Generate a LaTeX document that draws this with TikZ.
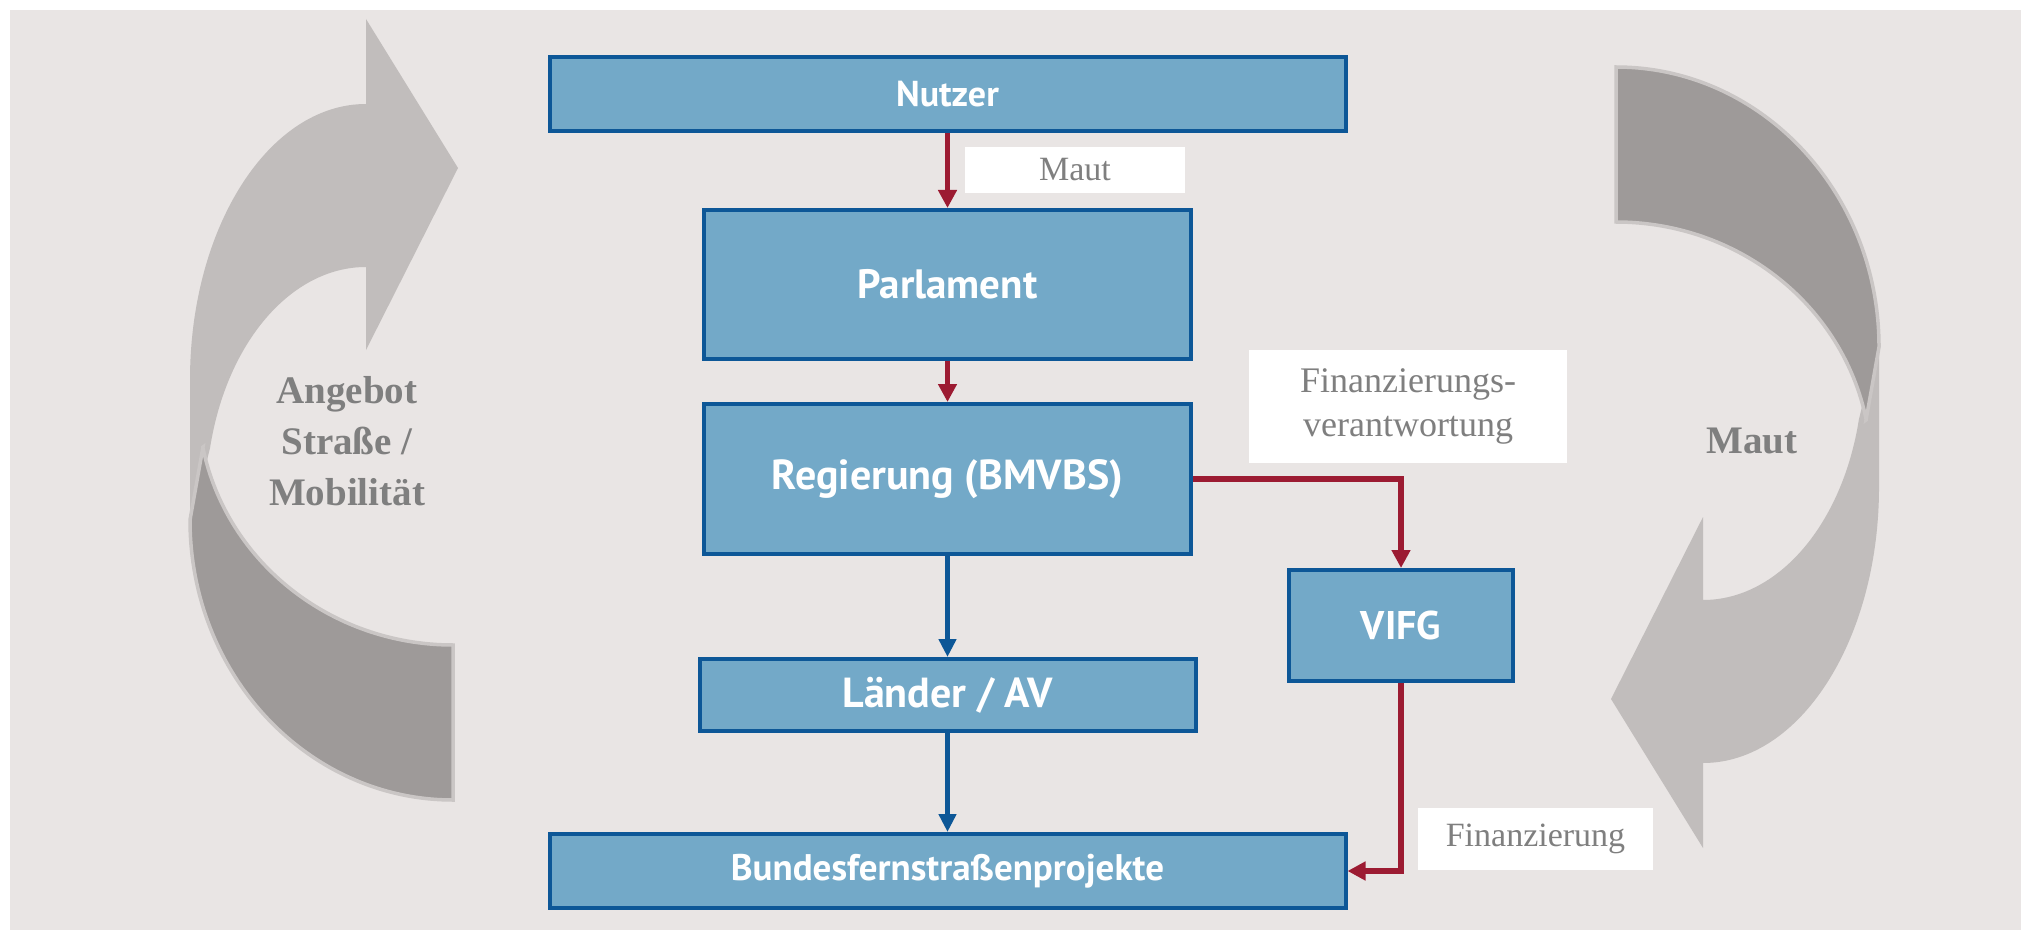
\documentclass[tikz,border=0pt]{standalone}
\usepackage{fontspec}
\setmainfont{Liberation Serif}
\newfontfamily\boxfont{PT Sans}
\usetikzlibrary{arrows.meta}
\definecolor{grund}{HTML}{E9E5E4}
\definecolor{kasten}{HTML}{73A9C8}
\definecolor{rand}{HTML}{0D5797}
\definecolor{geld}{HTML}{9C1B32}
\definecolor{hell}{HTML}{C1BDBC}
\definecolor{dunkel}{HTML}{9E9A99}
\definecolor{kontur}{HTML}{CAC6C5}
\definecolor{schrift}{HTML}{7F7F7F}
% gebogener Pfeil (Pixelkoordinaten, y nach unten)
\newcommand{\bogenpfeil}{%
  \fill[hell](366,104)--(366,19)--(458,168)--(366,350)--(366,267)
    arc[start angle=270,end angle=193,x radius=160,y radius=233]
    --(190,530)--(190,380)
    arc[start angle=180,end angle=270,x radius=176,y radius=276]--cycle;
  \filldraw[fill=dunkel,draw=kontur,line width=3.5pt](203,447)--(190,520)
    arc[start angle=180,end angle=90,x radius=263,y radius=280]
    --(453,645)
    arc[start angle=90,end angle=168.9,x radius=255,y radius=245]--cycle;
}
\newcommand{\kastenschrift}[1]{\boxfont\bfseries\fontsize{#1}{44}\selectfont}
\begin{document}
\begin{tikzpicture}[x=1pt,y=-1pt,
  box/.style={draw=rand,line width=4pt,fill=kasten,text=white,inner sep=0pt,
    font=\kastenschrift{36}},
  tag/.style={fill=white,text=schrift,inner sep=0pt,align=center,
    font={\fontsize{34}{43}\selectfont}},
  pfeiltext/.style={text=schrift,align=center,
    font={\bfseries\fontsize{39}{51}\selectfont}},
  geldfluss/.style={geld,line width=5.5pt,-{Triangle[width=18pt,length=18pt]}},
  auftrag/.style={rand,line width=4.5pt,-{Triangle[width=17pt,length=18pt]}}]
\useasboundingbox(0,0)rectangle(2031,941);
\fill[white](0,0)rectangle(2031,941);
\fill[grund](10,10)rectangle(2021,930);
\bogenpfeil
\begin{scope}[rotate around={180:(1034.5,433.5)}]
  \bogenpfeil
\end{scope}
\node[pfeiltext](angebot)at(347,441){Angebot\\Straße /\\Mobilität};
\node[pfeiltext,anchor=base](mautkreis)at(1752,453){Maut};
\node[box,minimum width=796pt,minimum height=74pt](nutzer)at(947.5,94){Nutzer};
\node[box,minimum width=487pt,minimum height=149pt,font=\kastenschrift{41}](parlament)at(947.5,284.5){Parlament};
\node[box,minimum width=487pt,minimum height=150pt,font=\kastenschrift{42}](regierung)at(947.5,479){Regierung (BMVBS)};
\node[box,minimum width=496pt,minimum height=72pt,font=\kastenschrift{42}](laender)at(947.5,695){Länder / AV};
\node[box,minimum width=796pt,minimum height=74pt,font=\kastenschrift{37}](bundes)at(947.5,871){Bundesfernstraßenprojekte};
\node[box,minimum width=224pt,minimum height=111pt,font=\kastenschrift{40}](vifg)at(1401,625.5){VIFG};
\node[tag,minimum width=220pt,minimum height=46pt](maut)at(1075,170){Maut};
\node[tag,minimum width=318pt,minimum height=113pt,font={\fontsize{36}{44}\selectfont}](verantwortung)at(1408,406.5){Finanzierungs-\\verantwortung};
\node[tag,minimum width=235pt,minimum height=62pt](finanzierung)at(1535.5,839){Finanzierung};
\draw[geldfluss](nutzer)--(parlament);
\draw[geldfluss](parlament)--(regierung);
\draw[geldfluss](regierung.east)-|(vifg.north);
\draw[geldfluss](vifg.south)|-(bundes.east);
\draw[auftrag](regierung)--(laender);
\draw[auftrag](laender)--(bundes);
\end{tikzpicture}
\end{document}
